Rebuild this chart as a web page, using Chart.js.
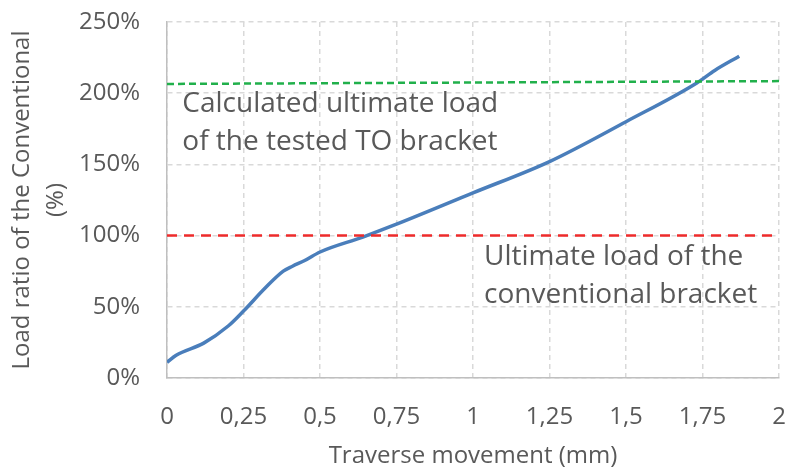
<!DOCTYPE html>
<html>
<head>
<meta charset="utf-8">
<script src="https://cdn.jsdelivr.net/npm/chart.js@4"></script>
<style>
  html, body { margin: 0; padding: 0; background: #fff; }
  #wrap { width: 790px; height: 470px; }
</style>
</head>
<body>
<div id="wrap"><canvas id="loadChart" width="790" height="470"></canvas></div>
<script>
  // traverse movement (mm) and load ratio (%)
  const moveMm = [0, 0.03, 0.12, 0.2, 0.25, 0.32, 0.38, 0.41, 0.45, 0.5, 0.64, 0.75, 1.0, 1.25, 1.5, 1.73, 1.79, 1.87];
  const loadRatio = [11, 16, 24.5, 36.5, 47, 63, 75, 78.5, 82.5, 88.5, 99, 108, 130, 152, 180, 207, 216, 226];

  // reference lines
  const calcLineX = [0, 2];
  const calcLineY = [206.5, 208.5];
  const convLineX = [0, 2];
  const convLineY = [100, 100];

  const xTicks = [0, 0.25, 0.5, 0.75, 1, 1.25, 1.5, 1.75, 2];
  const yTicks = [0, 50, 100, 150, 200, 250];

  const calcLabel = ["Calculated ultimate load", "of the tested TO bracket"];
  const convLabel = ["Ultimate load of the", "conventional bracket"];

  const textColor = "#595959";
  const fontFamily = "'Open Sans', sans-serif";

  const toPoints = (xs, ys) => xs.map((x, i) => ({ x: x, y: ys[i] }));

  // draws the two text notes next to the dashed lines
  const notesPlugin = {
    id: "notes",
    afterDatasetsDraw(chart) {
      const ctx = chart.ctx;
      const xs = chart.scales.x;
      const ys = chart.scales.y;
      ctx.save();
      ctx.fillStyle = textColor;
      ctx.font = "28px " + fontFamily;
      ctx.textBaseline = "alphabetic";
      ctx.textAlign = "left";
      ctx.fillText(calcLabel[0], xs.getPixelForValue(0.05), ys.getPixelForValue(186.8));
      ctx.fillText(calcLabel[1], xs.getPixelForValue(0.05), ys.getPixelForValue(160));
      ctx.fillText(convLabel[0], xs.getPixelForValue(1.036), ys.getPixelForValue(79.4));
      ctx.fillText(convLabel[1], xs.getPixelForValue(1.036), ys.getPixelForValue(52.7));
      ctx.restore();
    }
  };

  const chart = new Chart(document.getElementById("loadChart").getContext("2d"), {
    type: "line",
    data: {
      datasets: [
        {
          label: "Conventional bracket limit",
          data: toPoints(convLineX, convLineY),
          borderColor: "#ee2b2b",
          borderWidth: 2.5,
          borderDash: [10, 7],
          pointRadius: 0,
          fill: false,
        },
        {
          label: "Calculated TO bracket limit",
          data: toPoints(calcLineX, calcLineY),
          borderColor: "#21b04b",
          borderWidth: 2.5,
          borderDash: [7, 4],
          pointRadius: 0,
          fill: false,
        },
        {
          label: "Load ratio",
          data: toPoints(moveMm, loadRatio),
          borderColor: "#4a7ebb",
          borderWidth: 3.5,
          pointRadius: 0,
          cubicInterpolationMode: "monotone",
          fill: false,
        },
      ],
    },
    options: {
      responsive: false,
      animation: false,
      layout: { padding: { top: 22, right: 11, left: 0, bottom: 0 } },
      plugins: {
        legend: { display: false },
        tooltip: { enabled: false },
      },
      scales: {
        x: {
          type: "linear",
          min: 0,
          max: 2,
          afterBuildTicks: (scale) => {
            scale.ticks = xTicks.map((v) => ({ value: v }));
          },
          afterFit: (scale) => {
            scale.height = 92;
            scale.paddingLeft = 0;
            scale.paddingRight = 0;
          },
          ticks: {
            color: textColor,
            font: { family: fontFamily, size: 24 },
            padding: 25,
            maxRotation: 0,
            callback: (v) => String(v).replace(".", ","),
          },
          grid: { color: "#d9d9d9", lineWidth: 1.5, drawTicks: false },
          border: { color: "#bfbfbf", width: 1.5, dash: [5, 4] },
          title: {
            display: true,
            text: "Traverse movement (mm)",
            color: textColor,
            font: { family: fontFamily, size: 24 },
            padding: { top: 0, bottom: -1 },
          },
        },
        y: {
          type: "linear",
          min: 0,
          max: 250,
          afterBuildTicks: (scale) => {
            scale.ticks = yTicks.map((v) => ({ value: v }));
          },
          afterFit: (scale) => {
            scale.width = 167;
            scale.paddingTop = 0;
            scale.paddingBottom = 0;
          },
          ticks: {
            color: textColor,
            font: { family: fontFamily, size: 24 },
            padding: 27,
            callback: (v) => v + "%",
          },
          grid: { color: "#d9d9d9", lineWidth: 1.5, drawTicks: false },
          border: { color: "#bfbfbf", width: 1.5, dash: [5, 4] },
          title: {
            display: true,
            text: ["Load ratio of the Conventional", "(%)"],
            color: textColor,
            font: { family: fontFamily, size: 24, lineHeight: 1.42 },
            padding: { top: 5, bottom: 0 },
          },
        },
      },
    },
    plugins: [notesPlugin],
  });
</script>
</body>
</html>
